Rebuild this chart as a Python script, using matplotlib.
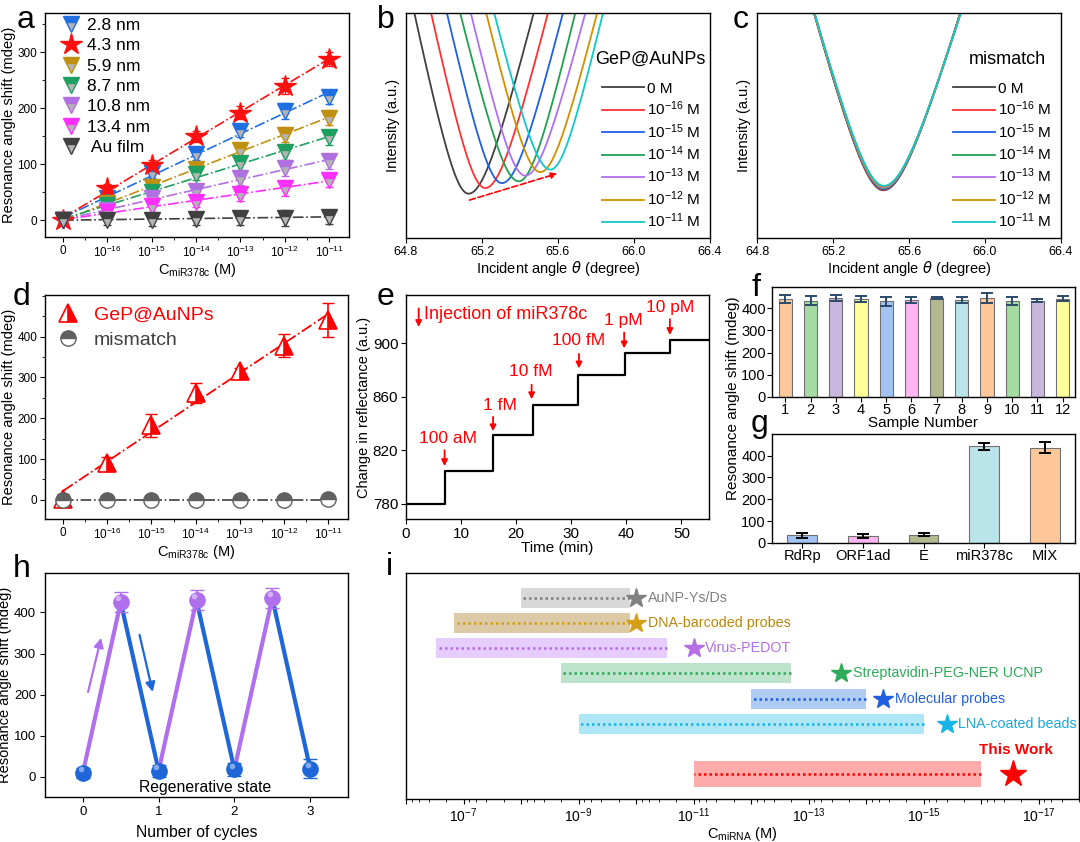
import numpy as np
import matplotlib
matplotlib.use("Agg")
import matplotlib.pyplot as plt
from matplotlib.ticker import MultipleLocator, FixedLocator, NullFormatter

plt.rcParams['font.family'] = ['Liberation Sans', 'DejaVu Sans']
plt.rcParams['mathtext.default'] = 'regular'
plt.rcParams['axes.linewidth'] = 1.0

# ---- data: panel a ----
conc_labels = ['0', '$10^{-16}$', '$10^{-15}$', '$10^{-14}$', '$10^{-13}$', '$10^{-12}$', '$10^{-11}$']
conc_pos = [0, 1, 2, 3, 4, 5, 6]
size_names = ['2.8 nm', '4.3 nm', '5.9 nm', '8.7 nm', '10.8 nm', '13.4 nm', ' Au film']
size_colors = ['#1f6fe0', '#ff1010', '#c09010', '#20a060', '#b070e0', '#ff30ff', '#404040']
shift_28 = [0, 40, 85, 118, 160, 195, 220]
shift_43 = [0, 57, 98, 150, 192, 240, 288]
shift_59 = [0, 30, 60, 92, 125, 153, 183]
shift_87 = [0, 27, 50, 82, 102, 122, 148]
shift_108 = [0, 18, 40, 52, 75, 93, 105]
shift_134 = [0, 15, 25, 33, 47, 57, 72]
shift_au = [0, 0, 0, 2, 4, 4, 6]
err_a = [6, 8, 10, 10, 12, 14, 13]

# ---- data: panel b / c (read from the dips: left edge, minimum, depth, right edge) ----
dip_labels = ['0 M', '$10^{-16}$ M', '$10^{-15}$ M', '$10^{-14}$ M', '$10^{-13}$ M', '$10^{-12}$ M', '$10^{-11}$ M']
dip_colors = ['#404040', '#ff3030', '#2060e0', '#20a050', '#b070f0', '#d09000', '#10c8c8']
b_left = [64.844, 64.932, 65.015, 65.085, 65.141, 65.222, 65.264]
b_min = [65.129, 65.217, 65.305, 65.393, 65.428, 65.507, 65.560]
b_depth = [0.197, 0.222, 0.244, 0.252, 0.277, 0.293, 0.304]
b_right = [65.472, 65.547, 65.626, 65.691, 65.744, 65.806, 65.837]
c_left = [65.100, 65.100, 65.101, 65.101, 65.102, 65.102, 65.103]
c_min = [65.465, 65.465, 65.466, 65.466, 65.467, 65.467, 65.468]
c_depth = [0.212, 0.215, 0.218, 0.221, 0.224, 0.228, 0.232]
c_right = [65.870, 65.870, 65.871, 65.871, 65.872, 65.872, 65.873]

# ---- data: panel d ----
gep_shift = [2, 90, 183, 262, 316, 378, 440]
gep_err = [12, 15, 28, 25, 8, 28, 42]
mis_shift = [0, 0, 0, 0, 0, 0, 1]
mis_err = [8, 8, 8, 8, 8, 8, 8]

# ---- data: panel e ----
step_times = [0, 7.0, 15.8, 23.0, 31.3, 39.8, 48.0, 55]
step_levels = [779.5, 804.5, 831, 854, 876.5, 892.5, 902]
inj_labels = ['100 aM', '1 fM', '10 fM', '100 fM', '1 pM', '10 pM']
inj_time = [7.0, 15.8, 22.8, 31.4, 39.6, 47.9]
inj_label_x = [7.7, 17.0, 22.7, 31.4, 39.5, 47.9]
inj_label_y = [823, 848, 873, 896, 911, 921]
inj_arrow_top = [822, 847, 871, 894, 910, 920]
inj_arrow_tip = [806, 832, 856, 879, 894, 904]

# ---- data: panel f ----
samples = list(range(1, 13))
sample_shift = [440, 435, 445, 442, 432, 437, 447, 438, 448, 432, 435, 443]
sample_err = [18, 20, 14, 15, 20, 12, 6, 12, 22, 17, 8, 12]
sample_colors = ['#ffc89a', '#a4dca4', '#c8b6dc', '#ffff9c', '#a2c2f2', '#ffb6f2',
                 '#b4b890', '#b8e4ea', '#ffc89a', '#a4dca4', '#c8b6dc', '#ffff9c']

# ---- data: panel g ----
targets = ['RdRp', 'ORF1ad', 'E', 'miR378c', 'MIX']
target_shift = [35, 33, 38, 443, 437]
target_err = [12, 10, 8, 15, 25]
target_colors = ['#a2c2f2', '#ffb6f2', '#b4b890', '#b8e4ea', '#ffc89a']

# ---- data: panel h ----
cycle_x = [0, 0.5, 1, 1.5, 2, 2.5, 3]
cycle_shift = [10, 425, 15, 430, 18, 435, 20]
cycle_err = [12, 24, 15, 25, 16, 25, 23]

# ---- data: panel i ----
methods = ['AuNP-Ys/Ds', 'DNA-barcoded probes', 'Virus-PEDOT', 'Streptavidin-PEG-NER UCNP',
           'Molecular probes', 'LNA-coated beads', 'This Work']
range_high = [1e-8, 1.45e-7, 3e-7, 2e-9, 1e-12, 1e-9, 1e-11]
range_low = [1.26e-10, 1.26e-10, 2.9e-11, 2e-13, 1e-14, 1e-15, 1e-16]
lod = [1e-10, 1e-10, 1e-11, 2.7e-14, 5e-15, 4e-16, 2.8e-17]
row_y = [8, 7, 6, 5, 4, 3, 1]
star_colors = ['#808080', '#d4a017', '#b46ee6', '#2eaa5a', '#1f5fe0', '#18b4e6', '#ff0000']
text_colors = ['#808080', '#b8860b', '#b46ee6', '#2eaa5a', '#1f5fe0', '#18a8e0', '#ff0000']
bar_colors = ['#d8d8d8', '#dccaa6', '#e6ccff', '#bde3cc', '#aecbf2', '#aee6f6', '#ffabab']

W, H = 1080, 842
fig = plt.figure(figsize=(W / 100, H / 100), dpi=100)


def add_ax(l, t, r, b):
    return fig.add_axes([l / W, 1 - b / H, (r - l) / W, (b - t) / H])


def letter(x, y, s):
    fig.text(x / W, 1 - y / H, s, fontsize=23, va='baseline', ha='left')


def dip(xs, xl, x0, y0, xr, c=0.4):
    t = np.where(xs < x0, (x0 - xs) / (x0 - xl), (xs - x0) / (xr - x0))
    f = (np.sqrt(1 + (t / c) ** 2) - 1) / (np.sqrt(1 + (1 / c) ** 2) - 1)
    return y0 + (1 - y0) * f


# ================= a =================
ax = add_ax(45, 13, 349, 237)
series_a = [shift_28, shift_43, shift_59, shift_87, shift_108, shift_134, shift_au]
handles = []
for i, vals in enumerate(series_a):
    col = size_colors[i]
    k, b0 = np.polyfit(conc_pos, vals, 1)
    xx = np.array([0, 6])
    ax.plot(xx, k * xx + b0 if i != 6 else [0, 6], '-.', color=col, lw=1.2, zorder=2)
    ax.errorbar(conc_pos, vals, yerr=err_a, fmt='none', ecolor=col, elinewidth=1, capsize=3, zorder=3)
    if i == 1:
        h, = ax.plot(conc_pos, vals, '*', ms=16, color=col, mec=col, ls='none', zorder=4, label=size_names[i])
    else:
        h, = ax.plot(conc_pos, vals, 'v', ms=11, color=col, mfc=col, mec=col, fillstyle='top',
                     markerfacecoloralt='#b4b4b4', ls='none', zorder=4, label=size_names[i])
    handles.append(h)
ax.set_xlim(-0.41, 6.45)
ax.set_ylim(-30, 370)
ax.set_xticks(conc_pos)
ax.set_xticklabels(conc_labels)
ax.xaxis.set_minor_locator(MultipleLocator(0.5))
ax.set_yticks([0, 100, 200, 300])
ax.yaxis.set_minor_locator(MultipleLocator(50))
ax.tick_params(labelsize=8.5, pad=2)
ax.set_xlabel('C$_{miR378c}$ (M)', fontsize=10.5, labelpad=1)
ax.set_ylabel('Resonance angle shift (mdeg)', fontsize=10.5, labelpad=1)
ax.legend(handles=handles, loc='upper left', frameon=False, fontsize=12.5, handlelength=1.2,
          handletextpad=0.35, labelspacing=0.3, borderaxespad=0.2, bbox_to_anchor=(0.016, 1.025))
letter(17, 28, 'a')

# ================= b and c =================
xs = np.linspace(64.8, 66.4, 1200)
for (l, lefts, mins, depths, rights, title, tag, lx, tx) in [
        (406, b_left, b_min, b_depth, b_right, 'GeP@AuNPs', 'b', 377, 0.985),
        (757, c_left, c_min, c_depth, c_right, 'mismatch', 'c', 733, 0.95)]:
    ax = add_ax(l, 13, l + 304, 238)
    hs = []
    for i in range(7):
        h, = ax.plot(xs, dip(xs, lefts[i], mins[i], depths[i], rights[i]), color=dip_colors[i],
                     lw=1.3, label=dip_labels[i])
        hs.append(h)
    if tag == 'b':
        ax.annotate('', xy=(65.61, 0.29), xytext=(65.12, 0.165),
                    arrowprops=dict(arrowstyle='-|>', color='red', lw=1.2, ls='--', mutation_scale=9))
    ax.set_xlim(64.8, 66.4)
    ax.set_ylim(0, 1)
    ax.set_xticks([64.8, 65.2, 65.6, 66.0, 66.4])
    ax.set_yticks([])
    ax.tick_params(labelsize=9, pad=2)
    ax.set_xlabel(r'Incident angle $\mathit{\theta}$ (degree)', fontsize=10.5, labelpad=1)
    ax.set_ylabel('Intensity (a.u.)', fontsize=10.5, labelpad=4)
    ax.text(tx, 0.795, title, transform=ax.transAxes, fontsize=13, ha='right', va='center')
    ax.legend(handles=hs, loc='upper left', bbox_to_anchor=(0.616, 0.735), frameon=False,
              fontsize=11, handlelength=2.7, handletextpad=0.2, labelspacing=0.25, borderpad=0.1)
    letter(lx, 28, tag)

# ================= d =================
ax = add_ax(45, 295, 348, 519)
k, b0 = np.polyfit(conc_pos, gep_shift, 1)
xx = np.array([0, 6])
ax.plot(xx, k * xx + b0, '-.', color='red', lw=1.3, zorder=2)
ax.plot(xx, [np.mean(mis_shift)] * 2, '-.', color='#404040', lw=1.2, zorder=2)
ax.errorbar(conc_pos, gep_shift, yerr=gep_err, fmt='none', ecolor='red', elinewidth=1.2, capsize=4, zorder=3)
ax.errorbar(conc_pos, mis_shift, yerr=mis_err, fmt='none', ecolor='#404040', elinewidth=1, capsize=4, zorder=3)
h1, = ax.plot(conc_pos, gep_shift, '^', ms=13, color='red', mec='red', fillstyle='right',
              markerfacecoloralt='white', mew=1.2, ls='none', zorder=4, label='GeP@AuNPs')
h2, = ax.plot(conc_pos, mis_shift, 'o', ms=11, color='#606060', mec='#606060', fillstyle='top',
              markerfacecoloralt='white', mew=1, ls='none', zorder=4, label='mismatch')
ax.set_xlim(-0.41, 6.45)
ax.set_ylim(-47, 502)
ax.set_xticks(conc_pos)
ax.set_xticklabels(conc_labels)
ax.xaxis.set_minor_locator(MultipleLocator(0.5))
ax.set_yticks([0, 100, 200, 300, 400])
ax.yaxis.set_minor_locator(MultipleLocator(50))
ax.tick_params(labelsize=8.5, pad=2)
ax.set_xlabel('C$_{miR378c}$ (M)', fontsize=10.5, labelpad=1)
ax.set_ylabel('Resonance angle shift (mdeg)', fontsize=10.5, labelpad=1)
leg = ax.legend(handles=[h1, h2], loc='upper left', frameon=False, fontsize=14, handlelength=1.2,
                handletextpad=0.7, labelspacing=0.35, borderaxespad=0.2, bbox_to_anchor=(0.0, 1.0))
leg.get_texts()[0].set_color('red')
leg.get_texts()[1].set_color('#404040')
letter(13, 305, 'd')

# ================= e =================
ax = add_ax(406, 295, 709, 519)
ax.step(step_times, step_levels + [step_levels[-1]], where='post', color='black', lw=1.6)
ax.annotate('', xy=(2.3, 910), xytext=(2.3, 928),
            arrowprops=dict(arrowstyle='-|>', color='red', lw=1.3, mutation_scale=9))
ax.text(3.2, 921.5, 'Injection of miR378c', color='red', fontsize=13, va='center', ha='left')
for i in range(len(inj_labels)):
    ax.annotate('', xy=(inj_time[i], inj_arrow_tip[i]), xytext=(inj_time[i], inj_arrow_top[i]),
                arrowprops=dict(arrowstyle='-|>', color='red', lw=1.3, mutation_scale=9))
    ax.text(inj_label_x[i], inj_label_y[i], inj_labels[i], color='red', fontsize=12.5,
            ha='center', va='bottom')
ax.set_xlim(0, 55)
ax.set_ylim(768.5, 936)
ax.xaxis.set_major_locator(MultipleLocator(10))
ax.set_yticks([780, 820, 860, 900])
ax.tick_params(labelsize=11, pad=2)
ax.set_xlabel('Time (min)', fontsize=11, labelpad=0)
ax.set_ylabel('Change in reflectance (a.u.)', fontsize=10.5, labelpad=1)
letter(377, 305, 'e')

# ================= f =================
ax = add_ax(772, 287, 1075, 397)
ax.bar(samples, sample_shift, width=0.52, color=sample_colors, edgecolor='#707070', lw=0.8)
ax.errorbar(samples, sample_shift, yerr=sample_err, fmt='none', ecolor='#2b4a6b', elinewidth=1.4,
            capsize=4, capthick=1.4)
ax.set_xlim(0.47, 12.49)
ax.set_ylim(0, 496)
ax.set_xticks(samples)
ax.yaxis.set_major_locator(MultipleLocator(100))
ax.tick_params(axis='both', labelsize=10.5, pad=1)
ax.set_xlabel('Sample Number', fontsize=11, labelpad=-1)
letter(752, 296, 'f')

# ================= g =================
ax = add_ax(772, 434, 1075, 543)
gx = np.arange(len(targets))
ax.bar(gx, target_shift, width=0.49, color=target_colors, edgecolor='#707070', lw=0.8)
ax.errorbar(gx, target_shift, yerr=target_err, fmt='none', ecolor='black', elinewidth=1.4,
            capsize=4, capthick=1.4)
ax.set_xlim(-0.5, 4.5)
ax.set_ylim(0, 499)
ax.set_xticks(gx)
ax.set_xticklabels(targets)
ax.yaxis.set_major_locator(MultipleLocator(100))
ax.tick_params(axis='both', labelsize=10.5, pad=1)
letter(751, 432, 'g')
fig.text(733 / W, 1 - 398 / H, 'Resonance angle shift (mdeg)', rotation=90, fontsize=11,
         ha='center', va='center')

# ================= h =================
ax = add_ax(45, 573, 348, 797)
purple, blue = '#b070ee', '#1f66d8'
for i in range(len(cycle_x) - 1):
    col = purple if cycle_shift[i + 1] > cycle_shift[i] else blue
    ax.plot(cycle_x[i:i + 2], cycle_shift[i:i + 2], color=col, lw=3, zorder=2)
for i in range(len(cycle_x)):
    col = purple if i % 2 else blue
    ax.errorbar(cycle_x[i], cycle_shift[i], yerr=cycle_err[i], fmt='none', ecolor=col,
                elinewidth=1.3, capsize=5, zorder=3)
    ax.plot(cycle_x[i], cycle_shift[i], 'o', ms=11, color=col, mec=col, zorder=4)
    ax.plot(cycle_x[i] - 0.03, cycle_shift[i] + 9, 'o', ms=4, color='white', alpha=0.45, mew=0, zorder=5)
ax.annotate('', xy=(0.25, 345), xytext=(0.06, 200),
            arrowprops=dict(arrowstyle='-|>', color=purple, lw=1.6, mutation_scale=14))
ax.annotate('', xy=(0.93, 200), xytext=(0.74, 352),
            arrowprops=dict(arrowstyle='-|>', color=blue, lw=1.6, mutation_scale=14))
ax.text(1.61, -26, 'Regenerative state', fontsize=11.3, ha='center', va='center')
ax.set_xlim(-0.5, 3.5)
ax.set_ylim(-49, 496)
ax.set_xticks([0, 1, 2, 3])
ax.set_yticks([0, 100, 200, 300, 400])
ax.tick_params(labelsize=9.5, pad=3)
ax.set_xlabel('Number of cycles', fontsize=11.3, labelpad=5)
ax.set_ylabel('Resonance angle shift (mdeg)', fontsize=10.5, labelpad=1)
letter(13, 577, 'h')

# ================= i =================
ax = add_ax(406, 573, 1079, 799)
ax.set_xscale('log')
for i in range(len(methods)):
    hgt = 1.03 if i == 6 else 0.8
    ax.barh(row_y[i], range_high[i] - range_low[i], left=range_low[i], height=hgt,
            color=bar_colors[i], lw=0, zorder=1)
    ax.plot([range_low[i], range_high[i]], [row_y[i]] * 2, ls=(0, (1, 1.2)), color=star_colors[i],
            lw=1.8, zorder=2)
    ax.plot(lod[i], row_y[i], '*', ms=20 if i == 6 else 15, color=star_colors[i], zorder=3)
    if i == 6:
        ax.text(lod[i] * 10 ** -0.05, row_y[i] + 0.95, methods[i], color=text_colors[i], fontsize=11,
                fontweight='bold', ha='center', va='center')
    else:
        ax.text(lod[i] * 10 ** -0.2, row_y[i], methods[i], color=text_colors[i], fontsize=10.3,
                ha='left', va='center')
ax.set_xlim(1e-6, 10 ** -17.7)
ax.set_ylim(0, 9)
ax.set_yticks([])
ax.xaxis.set_major_locator(FixedLocator([10.0 ** -e for e in range(6, 18)]))
ax.set_xticklabels(['' if e % 2 == 0 else '$10^{-%d}$' % e for e in range(6, 18)])
ax.xaxis.set_minor_locator(FixedLocator([m * 10.0 ** -e for e in range(6, 19) for m in (2, 4, 6, 8)]))
ax.xaxis.set_minor_formatter(NullFormatter())
ax.tick_params(axis='x', which='minor', length=2)
ax.tick_params(axis='x', labelsize=10, pad=2)
ax.set_xlabel('C$_{miRNA}$ (M)', fontsize=10.5, labelpad=0)
letter(386, 575, 'i')

fig.savefig('out.png', dpi=100)
